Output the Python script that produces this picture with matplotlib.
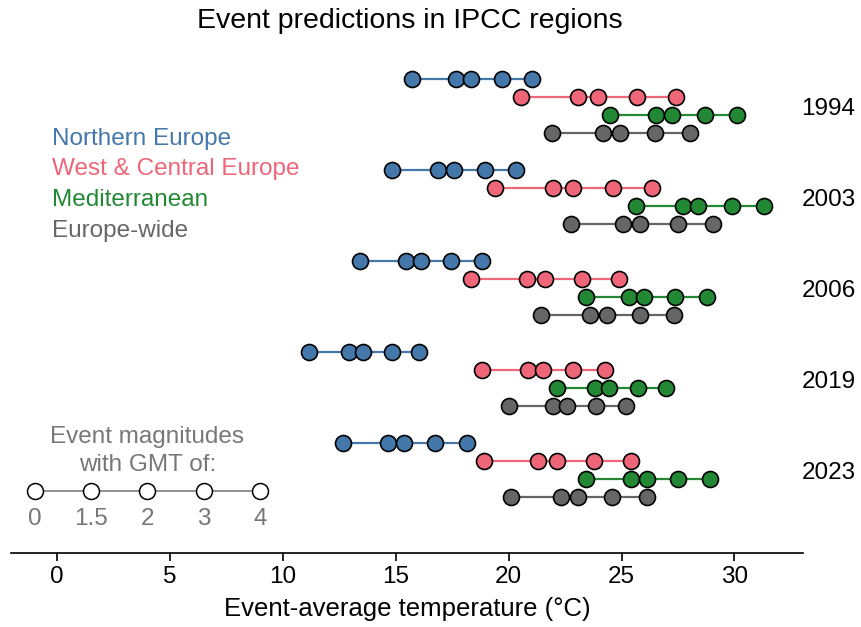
import matplotlib.pyplot as plt

plt.rcParams['font.family'] = ['Liberation Sans', 'DejaVu Sans']

years = ['1994', '2003', '2006', '2019', '2023']
regions = ['Northern Europe', 'West & Central Europe', 'Mediterranean', 'Europe-wide']
colors = ['#4477AA', '#EE6677', '#228833', '#666666']

# event-average temperature for GMT levels 0, 1.5, 2, 3, 4 (one list per region)
north = [
    [15.71, 17.67, 18.35, 19.69, 21.02],
    [14.85, 16.87, 17.57, 18.97, 20.34],
    [13.42, 15.46, 16.11, 17.46, 18.81],
    [11.16, 12.94, 13.57, 14.82, 16.05],
    [12.65, 14.67, 15.37, 16.75, 18.14],
]
west_central = [
    [20.55, 23.09, 23.95, 25.67, 27.40],
    [19.38, 21.98, 22.87, 24.61, 26.35],
    [18.33, 20.80, 21.61, 23.26, 24.90],
    [18.81, 20.85, 21.52, 22.87, 24.27],
    [18.91, 21.32, 22.13, 23.78, 25.42],
]
mediterranean = [
    [24.49, 26.53, 27.25, 28.68, 30.13],
    [25.63, 27.71, 28.40, 29.89, 31.32],
    [23.41, 25.35, 26.01, 27.38, 28.77],
    [22.13, 23.83, 24.46, 25.72, 26.96],
    [23.41, 25.41, 26.12, 27.52, 28.92],
]
europe = [
    [21.91, 24.17, 24.93, 26.50, 28.03],
    [22.75, 25.08, 25.82, 27.49, 29.07],
    [21.42, 23.61, 24.34, 25.82, 27.34],
    [20.03, 21.95, 22.57, 23.87, 25.19],
    [20.09, 22.32, 23.06, 24.60, 26.12],
]
gmt_levels = ['0', '1.5', '2', '3', '4']

series = [north, west_central, mediterranean, europe]
row_offsets = [0.3, 0.1, -0.1, -0.3]

fig = plt.figure(figsize=(8.62, 6.27), dpi=100)
ax = fig.add_axes([0.0128, 0.1176, 0.9188, 0.8027])

for ri, (data, col) in enumerate(zip(series, colors)):
    for yi in range(len(years)):
        y = -yi + row_offsets[ri]
        xs = data[yi]
        ax.plot(xs, [y] * len(xs), '-', color=col, linewidth=1.6, zorder=2)
        ax.plot(xs, [y] * len(xs), 'o', markersize=11.5, markerfacecolor=col,
                markeredgecolor='black', markeredgewidth=1.2, zorder=3)

for yi, yr in enumerate(years):
    ax.text(34.17, -yi - 0.03, yr, ha='center', va='center', fontsize=17.5, clip_on=False)

# region names as coloured text
for ri, (name, col) in enumerate(zip(regions, colors)):
    ax.text(-0.22, -0.36 - 0.337 * ri, name, color=col, fontsize=17.5,
            ha='left', va='center')

# GMT key
key_x = [-1.0, 1.5, 4.0, 6.5, 9.0]
key_y = -4.231
ax.plot(key_x, [key_y] * 5, '-', color='#888888', linewidth=1.3, zorder=2)
ax.plot(key_x, [key_y] * 5, 'o', markersize=11.5, markerfacecolor='white',
        markeredgecolor='black', markeredgewidth=1.1, zorder=3, clip_on=False)
for kx, lab in zip(key_x, gmt_levels):
    ax.text(kx, -4.54, lab, ha='center', va='center', fontsize=17.5, color='#777777')
ax.text(4.0, -3.64, 'Event magnitudes', ha='center', va='center', fontsize=17.5, color='#777777')
ax.text(4.0, -3.94, 'with GMT of:', ha='center', va='center', fontsize=17.5, color='#777777')

ax.set_xlim(-2.04, 33.04)
ax.set_ylim(-4.915, 0.615)
ax.set_xticks([0, 5, 10, 15, 20, 25, 30])
ax.tick_params(axis='x', labelsize=17.5, length=6, width=1.2)
ax.set_yticks([])
for side in ['top', 'right', 'left']:
    ax.spines[side].set_visible(False)
ax.spines['bottom'].set_linewidth(1.2)
ax.set_xlabel('Event-average temperature (°C)', fontsize=18.5, labelpad=6)

fig.text(410 / 862, 1 - 21 / 627, 'Event predictions in IPCC regions',
         ha='center', va='center', fontsize=20.5)

fig.savefig('out.png', dpi=100)
